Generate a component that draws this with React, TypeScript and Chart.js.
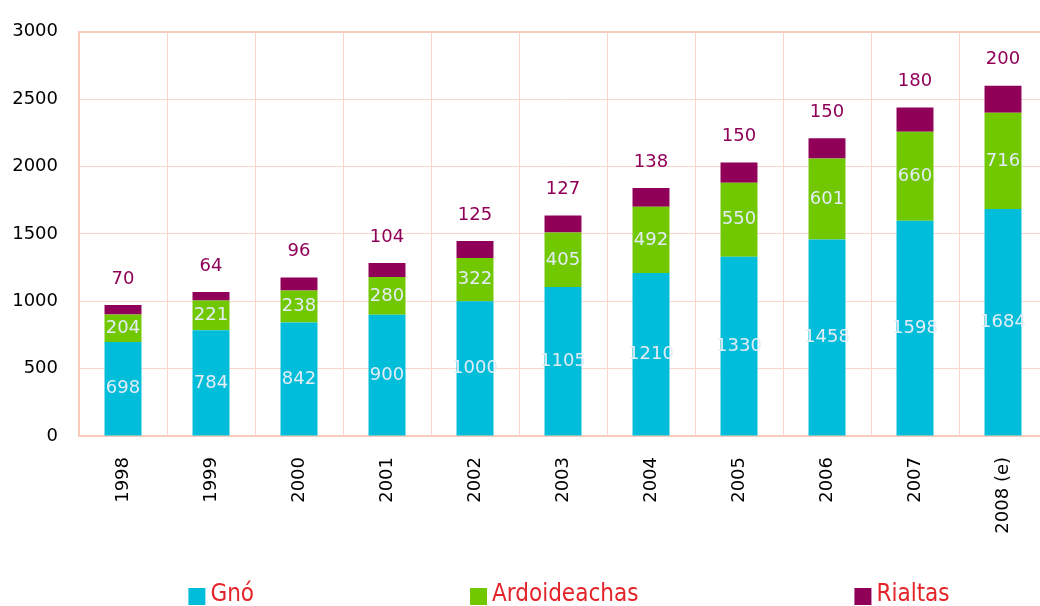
import React, { useEffect, useRef } from "react";
import { Chart, registerables } from "chart.js";

Chart.register(...registerables);

const categories = ["1998", "1999", "2000", "2001", "2002", "2003", "2004", "2005", "2006", "2007", "2008 (e)"];
const gno = [698, 784, 842, 900, 1000, 1105, 1210, 1330, 1458, 1598, 1684];
const ardoideachas = [204, 221, 238, 280, 322, 405, 492, 550, 601, 660, 716];
const rialtas = [70, 64, 96, 104, 125, 127, 138, 150, 150, 180, 200];
const seriesNames = ["Gnó", "Ardoideachas", "Rialtas"];
const yMin = 0;
const yMax = 3000;
const yStep = 500;

const COLORS = ["#00bdd9", "#72c800", "#910058"];
const GRID = "#f8d6ca";
const BORDER = "#f7cbbb";
const FONT = "'DejaVu Sans', sans-serif";
const LEGEND_FONT = "'DejaVu Sans Condensed', 'DejaVu Sans', sans-serif";

const labelPlugin = {
  id: "valueLabels",
  afterDatasetsDraw(chart: any) {
    const ctx = chart.ctx;
    ctx.save();
    ctx.font = `18px ${FONT}`;
    ctx.textAlign = "center";
    ctx.textBaseline = "middle";
    chart.data.datasets.forEach((ds: any, di: number) => {
      const meta = chart.getDatasetMeta(di);
      meta.data.forEach((bar: any, i: number) => {
        const v = ds.data[i];
        if (di < 2) {
          ctx.fillStyle = "#e4ecf7";
          ctx.fillText(String(v), bar.x, (bar.y + bar.base) / 2);
        } else {
          ctx.fillStyle = "#910058";
          ctx.fillText(String(v), bar.x, bar.y - 26);
        }
      });
    });
    ctx.restore();
  },
};

const legendPlugin = {
  id: "customLegend",
  afterDraw(chart: any) {
    const ctx = chart.ctx;
    ctx.save();
    ctx.font = `24px ${LEGEND_FONT}`;
    ctx.textBaseline = "alphabetic";
    const box = 17;
    const gapText = 5;
    const gap = 216;
    const widths = chart.data.datasets.map((ds: any) => box + gapText + ctx.measureText(ds.label).width);
    const total = widths.reduce((a: number, b: number) => a + b, 0) + gap * (widths.length - 1);
    let x = 569 - total / 2;
    chart.data.datasets.forEach((ds: any, i: number) => {
      ctx.fillStyle = ds.backgroundColor;
      ctx.fillRect(x, 588, box, box);
      ctx.fillStyle = "#e42329";
      ctx.textAlign = "left";
      ctx.fillText(ds.label, x + box + gapText, 601);
      x += widths[i] + gap;
    });
    ctx.restore();
  },
};

export default function App() {
  const ref = useRef<HTMLCanvasElement>(null);
  useEffect(() => {
    if (!ref.current) return;
    const chart = new Chart(ref.current, {
      type: "bar",
      data: {
        labels: categories,
        datasets: [
          { label: seriesNames[0], data: gno, backgroundColor: COLORS[0] },
          { label: seriesNames[1], data: ardoideachas, backgroundColor: COLORS[1] },
          { label: seriesNames[2], data: rialtas, backgroundColor: COLORS[2] },
        ],
      },
      options: {
        responsive: false,
        animation: false,
        layout: { padding: { top: 28, right: 13, left: 0, bottom: 0 } },
        datasets: { bar: { barPercentage: 0.42, categoryPercentage: 1 } },
        plugins: { legend: { display: false }, tooltip: { enabled: false } },
        scales: {
          x: {
            stacked: true,
            grid: { color: GRID, lineWidth: 1, drawTicks: false, offset: true },
            border: { color: BORDER, width: 2 },
            ticks: { color: "#000", font: { family: FONT, size: 18 }, minRotation: 90, maxRotation: 90, padding: 21 },
            afterFit: (s: any) => { s.height = 170; },
          },
          y: {
            stacked: true,
            min: yMin,
            max: yMax,
            grid: {
              color: (c: any) => (c.tick && c.tick.value === yMax ? BORDER : GRID),
              lineWidth: (c: any) => (c.tick && c.tick.value === yMax ? 2 : 1),
              drawTicks: false,
            },
            border: { color: BORDER, width: 2 },
            ticks: {
              stepSize: yStep,
              color: "#000",
              font: { family: FONT, size: 18 },
              padding: 21,
              callback: (v: any) => String(v),
            },
            afterFit: (s: any) => { s.width = 79; },
          },
        },
      },
      plugins: [labelPlugin, legendPlugin],
    });
    return () => chart.destroy();
  }, []);
  return (
    <div style={{ position: "absolute", left: 0, top: 0, width: 1040, height: 606, overflow: "hidden", background: "#fff" }}>
      <canvas ref={ref} width={1060} height={606} style={{ display: "block" }} />
    </div>
  );
}
